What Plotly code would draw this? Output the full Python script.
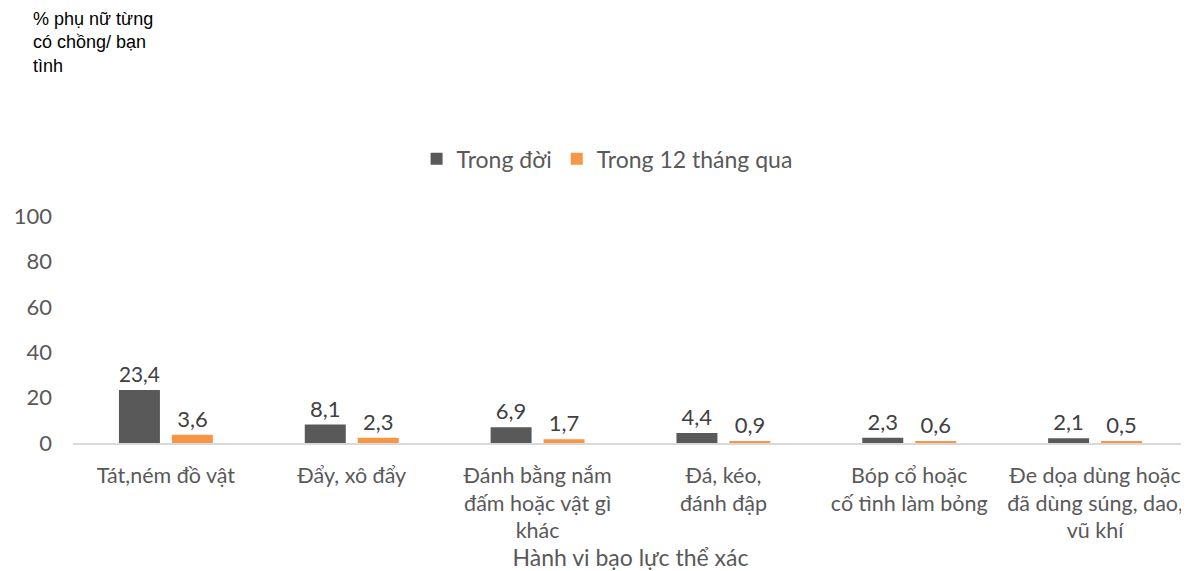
import plotly.graph_objects as go

categories = [
    "Tát,ném đồ vật",
    "Đẩy, xô đẩy",
    "Đánh bằng nắm<br>đấm hoặc vật gì<br>khác",
    "Đá, kéo,<br>đánh đập",
    "Bóp cổ hoặc<br>cố tình làm bỏng",
    "Đe dọa dùng hoặc<br>đã dùng súng, dao,<br>vũ khí",
]
lifetime = [23.4, 8.1, 6.9, 4.4, 2.3, 2.1]
last12 = [3.6, 2.3, 1.7, 0.9, 0.6, 0.5]
y_ticks = [0, 20, 40, 60, 80, 100]

FONT = "Lato"
TXT = "#595959"

fig = go.Figure()
fig.add_trace(go.Bar(
    x=categories, y=lifetime, name="Trong đời",
    marker=dict(color="#595959", line=dict(width=0)),
    texttemplate="%{y:.1f}", textposition="outside",
    textfont=dict(family=FONT, size=22, color="#404040"),
    cliponaxis=False,
))
fig.add_trace(go.Bar(
    x=categories, y=last12, name="Trong 12 tháng qua",
    marker=dict(color="#F79646", line=dict(width=0)),
    texttemplate="%{y:.1f}", textposition="outside",
    textfont=dict(family=FONT, size=22, color="#404040"),
    cliponaxis=False,
))

fig.update_layout(
    width=1181, height=563,
    margin=dict(l=65, r=1, t=208, b=128),
    paper_bgcolor="white", plot_bgcolor="white",
    separators=",.",
    barmode="group", bargap=0.43, bargroupgap=0.226,
    font=dict(family=FONT, size=22, color=TXT),
    showlegend=True,
    legend=dict(
        orientation="h", x=0.479, xanchor="center", y=1.252, yanchor="middle",
        font=dict(family=FONT, size=23, color=TXT),
        traceorder="normal",
    ),
    xaxis=dict(
        showline=True, linecolor="#D9D9D9", linewidth=1.5,
        ticks="", tickfont=dict(family=FONT, size=21.5, color=TXT),
        ticklabelstandoff=12,
        title=dict(text="Hành vi bạo lực thể xác", font=dict(family=FONT, size=23, color=TXT), standoff=3),
        showgrid=False, zeroline=False,
    ),
    yaxis=dict(
        range=[0, 100], tickvals=y_ticks, showgrid=False, zeroline=False,
        showline=False, ticks="", ticklabelstandoff=20,
        tickfont=dict(family=FONT, size=22, color=TXT),
    ),
    annotations=[dict(
        text="% phụ nữ từng<br>có chồng/ bạn<br>tình",
        xref="paper", yref="paper", x=(23 - 65) / 1115, y=1 + (208 + 1) / 227,
        xanchor="left", yanchor="top", align="left", showarrow=False,
        font=dict(family="Arial", size=18, color="black"),
    )],
)

fig.write_html("out.html")
